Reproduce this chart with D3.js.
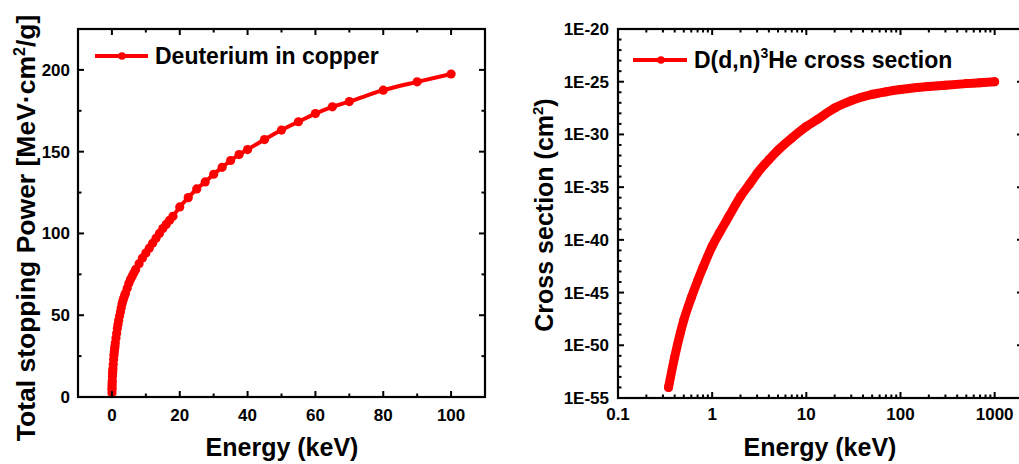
<!DOCTYPE html>
<html><head><meta charset="utf-8">
<script src="https://cdn.jsdelivr.net/npm/d3@7"></script>
<style>
body{margin:0;background:#fff;overflow:hidden}
text{font-family:"Liberation Sans",Arial,Helvetica,sans-serif;font-weight:bold;fill:#000}
</style>
</head><body>
<svg id="chart" width="1019" height="464"></svg>
<script>
// ---- Left panel: stopping power of deuterium in copper ----
const spEnergy = [0.01,0.02,0.03,0.05,0.07,0.1,0.15,0.2,0.25,0.3,0.4,0.5,0.6,0.7,0.8,0.9,1.0,1.2,1.4,1.6,1.8,2.0,2.25,2.5,2.75,3.0,3.25,3.5,3.75,4.0,4.5,5.0,5.5,6.0,6.5,7.0,8.0,9.0,10,11,12,13,14,15,16,17,18,20,22.5,25,27.5,30,32.5,35,37.5,40,45,50,55,60,65,70,80,90,100];
const spValue  = [2.5,4.5,5.5,7,8.5,10,12.5,14.5,16,17.5,20,23,25.5,27.5,29.5,31,33,36,39,42,44.5,47,49.5,52,54.5,57,59,60.5,62,63.5,66.5,69.5,72,74,76,78,81.5,85,88,91,94,97,100,103,105.5,108,110.5,116.2,121.9,127.2,131.5,136.2,140.4,144.6,148.2,151.3,157.4,163.2,168.3,173.3,177.4,180.6,187.6,192.7,197.5];
const spXTicks = [0,20,40,60,80,100];
const spXMinor = [10,30,50,70,90];
const spYTicks = [0,50,100,150,200];
const spYMinor = [25,75,125,175];
const spLegend = "Deuterium in copper";

// ---- Right panel: D(d,n)3He cross section ----
const csEnergy = [0.344,0.4,0.46,0.5,0.6,0.7,0.8,1.0,1.2,1.5,2.0,2.5,3.0,4.0,5.0,7.0,10,13,20,30,50,70,100,150,200,300,500,700,1000];
const csValue  = [1.0e-54,7.9e-52,1.6e-49,2.5e-48,3.2e-46,1.3e-44,2.5e-43,2.5e-41,5.0e-40,1.6e-38,1.3e-36,2.0e-35,2.0e-34,4.0e-33,3.2e-32,4.5e-31,5.6e-30,2.5e-29,3.2e-28,1.6e-27,6.3e-27,1.1e-26,1.8e-26,2.8e-26,3.5e-26,4.7e-26,6.6e-26,7.9e-26,1.0e-25];
const csXTicks = [0.1,1,10,100,1000];
const csXTickLabels = ["0.1","1","10","100","1000"];
const csYTicks = [1e-55,1e-50,1e-45,1e-40,1e-35,1e-30,1e-25,1e-20];
const csYTickLabels = ["1E-55","1E-50","1E-45","1E-40","1E-35","1E-30","1E-25","1E-20"];

const RED = "#ff0000";
const svg = d3.select("#chart");

function drawFrame(g, x, y, xMaj, xMin, yMaj, yMin){
  const [x0,x1] = x.range(), [y0,y1] = y.range();
  const L = 6, l = 3.5;
  const seg = [];
  xMaj.forEach(v=>{ seg.push([x(v),y0,x(v),y0-L]); seg.push([x(v),y1,x(v),y1+L]); });
  xMin.forEach(v=>{ seg.push([x(v),y0,x(v),y0-l]); seg.push([x(v),y1,x(v),y1+l]); });
  yMaj.forEach(v=>{ seg.push([x0,y(v),x0+L,y(v)]); seg.push([x1,y(v),x1-L,y(v)]); });
  yMin.forEach(v=>{ seg.push([x0,y(v),x0+l,y(v)]); seg.push([x1,y(v),x1-l,y(v)]); });
  g.append("g").selectAll("line").data(seg).join("line")
    .attr("x1",d=>d[0]).attr("y1",d=>d[1]).attr("x2",d=>d[2]).attr("y2",d=>d[3])
    .attr("stroke","#000").attr("stroke-width",2);
  g.append("rect").attr("x",x0).attr("y",y1).attr("width",x1-x0).attr("height",y0-y1)
    .attr("fill","none").attr("stroke","#000").attr("stroke-width",2.2);
}

// ---------- LEFT ----------
const xL = d3.scaleLinear().domain([-10,110]).range([78,485]);
const yL = d3.scaleLinear().domain([0,225]).range([397,29]);
const gL = svg.append("g");

const spData = spEnergy.map((e,i)=>({x:e,y:spValue[i]}));
gL.append("path").datum(spData)
  .attr("d", d3.line().x(d=>xL(d.x)).y(d=>yL(d.y)).curve(d3.curveMonotoneX))
  .attr("fill","none").attr("stroke",RED).attr("stroke-width",4).attr("stroke-linejoin","round");
gL.append("g").selectAll("circle").data(spData).join("circle")
  .attr("cx",d=>xL(d.x)).attr("cy",d=>yL(d.y)).attr("r",4.6).attr("fill",RED);

drawFrame(gL, xL, yL, spXTicks, spXMinor, spYTicks, spYMinor);

gL.append("g").selectAll("text").data(spXTicks).join("text")
  .attr("x",d=>xL(d)).attr("y",421).attr("text-anchor","middle").attr("font-size",17).text(d=>d);
gL.append("g").selectAll("text").data(spYTicks).join("text")
  .attr("x",70).attr("y",d=>yL(d)+6).attr("text-anchor","end").attr("font-size",17).text(d=>d);

gL.append("text").attr("x",282).attr("y",456).attr("text-anchor","middle").attr("font-size",25).text("Energy (keV)");
const tL = gL.append("text").attr("transform","translate(35,228) rotate(-90)").attr("text-anchor","middle").attr("font-size",26.5);
tL.append("tspan").text("Total stopping Power [MeV\u00b7cm");
tL.append("tspan").attr("font-size",16).attr("dy",-10).text("2");
tL.append("tspan").attr("dy",10).text("/g]");

// legend left
gL.append("line").attr("x1",95).attr("x2",148).attr("y1",56).attr("y2",56).attr("stroke",RED).attr("stroke-width",4);
gL.append("circle").attr("cx",122).attr("cy",56).attr("r",3.8).attr("fill",RED);
gL.append("text").attr("x",155).attr("y",63.5).attr("font-size",23).text(spLegend);

// ---------- RIGHT ----------
const xR = d3.scaleLog().domain([0.1,2000]).range([618,1023]);
const yR = d3.scaleLog().domain([1e-55,1e-20]).range([398,29]);
const gR = svg.append("g");

const csData = csEnergy.map((e,i)=>({x:e,y:csValue[i]}));
gR.append("path").datum(csData)
  .attr("d", d3.line().x(d=>xR(d.x)).y(d=>yR(d.y)).curve(d3.curveMonotoneX))
  .attr("fill","none").attr("stroke",RED).attr("stroke-width",9)
  .attr("stroke-linejoin","round").attr("stroke-linecap","round");
gR.append("g").selectAll("circle").data(csData).join("circle")
  .attr("cx",d=>xR(d.x)).attr("cy",d=>yR(d.y)).attr("r",4.5).attr("fill",RED);

const xMinR = [];
[0.1,1,10,100,1000].forEach(dec=>{ for(let k=2;k<=9;k++){ const v=dec*k; if(v<=2000) xMinR.push(v);} });
const yMinR = [];
for(let p=-54;p<=-21;p++){ if(p%5!==0) yMinR.push(Math.pow(10,p)); }
drawFrame(gR, xR, yR, csXTicks, xMinR, csYTicks, yMinR);

gR.append("g").selectAll("text").data(csXTicks).join("text")
  .attr("x",d=>xR(d)).attr("y",420).attr("text-anchor","middle").attr("font-size",17)
  .text((d,i)=>csXTickLabels[i]);
gR.append("g").selectAll("text").data(csYTicks).join("text")
  .attr("x",609).attr("y",d=>yR(d)+6).attr("text-anchor","end").attr("font-size",17)
  .text((d,i)=>csYTickLabels[i]);

gR.append("text").attr("x",820).attr("y",456).attr("text-anchor","middle").attr("font-size",25).text("Energy (keV)");
const tR = gR.append("text").attr("transform","translate(553,215) rotate(-90)").attr("text-anchor","middle").attr("font-size",25);
tR.append("tspan").text("Cross section (cm");
tR.append("tspan").attr("font-size",15).attr("dy",-10).text("2");
tR.append("tspan").attr("dy",10).text(")");

// legend right
gR.append("line").attr("x1",633).attr("x2",687).attr("y1",60).attr("y2",60).attr("stroke",RED).attr("stroke-width",4);
gR.append("circle").attr("cx",661).attr("cy",60).attr("r",3.8).attr("fill",RED);
const lR = gR.append("text").attr("x",694).attr("y",68).attr("font-size",23);
lR.append("tspan").text("D(d,n)");
lR.append("tspan").attr("font-size",14).attr("dy",-10).text("3");
lR.append("tspan").attr("dy",10).text("He cross section");
</script>
</body></html>
